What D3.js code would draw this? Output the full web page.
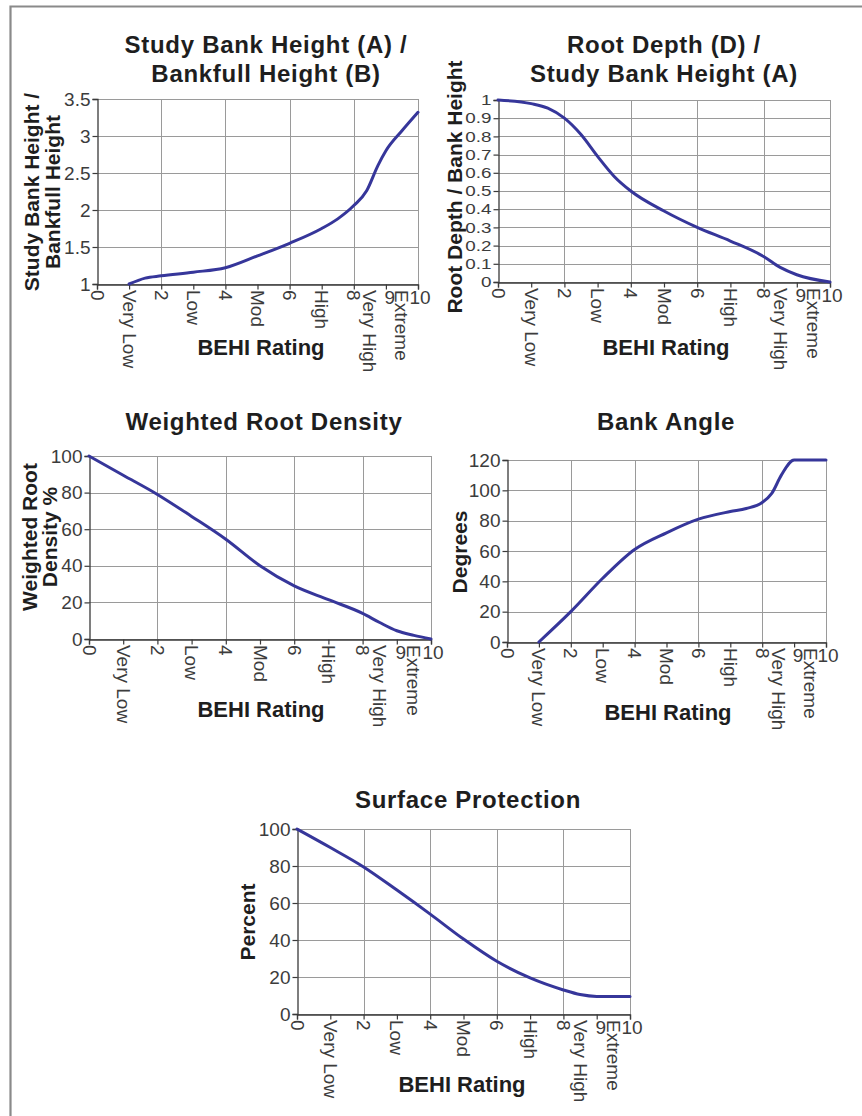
<!DOCTYPE html>
<html>
<head>
<meta charset="utf-8">
<script src="https://cdn.jsdelivr.net/npm/d3@7"></script>
<style>
  html, body { margin: 0; padding: 0; background: #fff; }
  svg { display: block; font-family: "Liberation Sans", Arial, sans-serif; }
</style>
</head>
<body>
<svg id="page" width="862" height="1116"></svg>
<script>
// BEHI rating axis shared by every panel
const xTickValues = [0, 1, 2, 3, 4, 5, 6, 7, 8, 9, 10];
const xGridValues = [2, 4, 6, 8, 10];
const xNumberRotated = [0, 2, 4, 6, 8];
const xNumberFlat = [9, 10];
const ratingNames = ["Very Low", "Low", "Mod", "High", "Very High", "Extreme"];
const ratingPos = [1, 3, 5, 7, 8.5, 9.5];

// Study bank height / bankfull height
const bankHeightX = [1, 1.5, 2, 3, 4, 5, 6, 7, 7.5, 8, 8.4, 8.75, 9, 9.5, 10];
const bankHeightY = [1, 1.08, 1.11, 1.16, 1.22, 1.38, 1.55, 1.75, 1.88, 2.06, 2.26, 2.6, 2.8, 3.07, 3.32];
const bankHeightTicks = [1, 1.5, 2, 2.5, 3, 3.5];
const bankHeightLabels = ["1", "1.5", "2", "2.5", "3", "3.5"];

// Root depth / study bank height
const rootDepthX = [0, 1, 1.5, 2, 2.5, 3, 3.5, 4, 5, 6, 7, 8, 8.5, 9, 10];
const rootDepthY = [1, 0.98, 0.955, 0.9, 0.81, 0.69, 0.58, 0.5, 0.39, 0.3, 0.225, 0.14, 0.08, 0.04, 0];
const rootDepthTicks = [0, 0.1, 0.2, 0.3, 0.4, 0.5, 0.6, 0.7, 0.8, 0.9, 1];
const rootDepthLabels = ["0", "0.1", "0.2", "0.3", "0.4", "0.5", "0.6", "0.7", "0.8", "0.9", "1"];

// Weighted root density (%)
const rootDensityX = [0, 1, 2, 3, 4, 5, 6, 7, 8, 8.5, 9, 9.5, 10];
const rootDensityY = [100, 89.5, 79, 67, 54.5, 40, 29, 21.5, 14, 9, 4.5, 2, 0];
const percentTicks = [0, 20, 40, 60, 80, 100];
const percentLabels = ["0", "20", "40", "60", "80", "100"];

// Bank angle (degrees)
const bankAngleX = [1, 2, 3, 4, 5, 6, 7, 7.5, 8, 8.3, 8.6, 9, 10];
const bankAngleY = [0, 20, 42, 61, 72, 81, 86, 88, 92, 98, 110, 120, 120];
const angleTicks = [0, 20, 40, 60, 80, 100, 120];
const angleLabels = ["0", "20", "40", "60", "80", "100", "120"];

// Surface protection (%)
const surfaceX = [0, 1, 2, 3, 4, 5, 6, 7, 8, 8.5, 9, 10];
const surfaceY = [100, 90, 79.5, 67, 54, 40.5, 28.5, 19.5, 13, 10.5, 9.5, 9.5];

const LINE_COLOR = "#36369a";
const GRID_COLOR = "#9a9a9a";
const AXIS_COLOR = "#3a3a3a";
const TEXT_DARK = "#1e1e1e";
const TICK_TEXT = "#3c3c3c";

const svg = d3.select("#page");

// page frame (top and left rule)
svg.append("path")
  .attr("d", "M10.5,1116 L10.5,6.5 L862,6.5")
  .attr("fill", "none")
  .attr("stroke", "#8a8a8a")
  .attr("stroke-width", 2.2);

const panels = [
  {
    title: ["Study Bank Height (A) /", "Bankfull Height (B)"], titleX: 266, titleY: [53, 82],
    yTitle: ["Study Bank Height /", "Bankfull Height"], yTitleX: [39, 60], yTitleY: 192,
    x0: 97, x1: 418, yTop: 99, yBot: 284, domain: [1, 3.5],
    ticks: bankHeightTicks, labels: bankHeightLabels, tickFont: 19, tickStretch: 1,
    xs: bankHeightX, ys: bankHeightY, behiX: 261, behiY: 355
  },
  {
    title: ["Root Depth (D) /", "Study Bank Height (A)"], titleX: 664, titleY: [53, 82],
    yTitle: ["Root Depth / Bank Height"], yTitleX: [462], yTitleY: 187,
    x0: 498, x1: 830, yTop: 100, yBot: 282, domain: [0, 1],
    ticks: rootDepthTicks, labels: rootDepthLabels, tickFont: 14.5, tickStretch: 1.3,
    xs: rootDepthX, ys: rootDepthY, behiX: 666, behiY: 355
  },
  {
    title: ["Weighted Root Density"], titleX: 264, titleY: [430],
    yTitle: ["Weighted Root", "Density %"], yTitleX: [37, 57], yTitleY: 537,
    x0: 89, x1: 431, yTop: 456, yBot: 639, domain: [0, 100],
    ticks: percentTicks, labels: percentLabels, tickFont: 19, tickStretch: 1,
    xs: rootDensityX, ys: rootDensityY, behiX: 261, behiY: 717
  },
  {
    title: ["Bank Angle"], titleX: 666, titleY: [430],
    yTitle: ["Degrees"], yTitleX: [467], yTitleY: 552,
    x0: 507, x1: 826, yTop: 460, yBot: 642, domain: [0, 120],
    ticks: angleTicks, labels: angleLabels, tickFont: 19, tickStretch: 1,
    xs: bankAngleX, ys: bankAngleY, behiX: 668, behiY: 720
  },
  {
    title: ["Surface Protection"], titleX: 468, titleY: [808],
    yTitle: ["Percent"], yTitleX: [255], yTitleY: 922,
    x0: 297, x1: 630, yTop: 829, yBot: 1014, domain: [0, 100],
    ticks: percentTicks, labels: percentLabels, tickFont: 19, tickStretch: 1,
    xs: surfaceX, ys: surfaceY, behiX: 462, behiY: 1092
  }
];

function drawPanel(p) {
  const g = svg.append("g");
  const x = d3.scaleLinear().domain([0, 10]).range([p.x0, p.x1]);
  const y = d3.scaleLinear().domain(p.domain).range([p.yBot, p.yTop]);

  // horizontal grid
  g.selectAll(".hgrid").data(p.ticks).join("line")
    .attr("x1", p.x0).attr("x2", p.x1)
    .attr("y1", d => Math.round(y(d)) + 0.5).attr("y2", d => Math.round(y(d)) + 0.5)
    .attr("stroke", GRID_COLOR).attr("stroke-width", 1);

  // vertical grid
  g.selectAll(".vgrid").data(xGridValues).join("line")
    .attr("x1", d => Math.round(x(d)) + 0.5).attr("x2", d => Math.round(x(d)) + 0.5)
    .attr("y1", p.yTop).attr("y2", p.yBot)
    .attr("stroke", GRID_COLOR).attr("stroke-width", 1);

  // y axis with labels
  const yAxis = d3.axisLeft(y).tickValues(p.ticks)
    .tickFormat((d, i) => p.labels[i]).tickSize(5).tickPadding(2);
  const ya = g.append("g").attr("transform", `translate(${Math.round(p.x0) + 0.5},0)`).call(yAxis);
  ya.select(".domain").attr("stroke", AXIS_COLOR).attr("stroke-width", 1.3);
  ya.selectAll(".tick line").attr("stroke", AXIS_COLOR).attr("stroke-width", 1.2);
  ya.selectAll(".tick text").attr("fill", TICK_TEXT)
    .attr("x", -7 / p.tickStretch)
    .attr("transform", `scale(${p.tickStretch},1)`)
    .style("font-size", p.tickFont + "px")
    .style("font-family", "'Liberation Sans', Arial, sans-serif");

  // x axis (tick marks only, labels placed below)
  const xAxis = d3.axisBottom(x).tickValues(xTickValues).tickSize(5).tickFormat("");
  const xa = g.append("g").attr("transform", `translate(0,${Math.round(p.yBot) + 0.5})`).call(xAxis);
  xa.select(".domain").attr("stroke", AXIS_COLOR).attr("stroke-width", 1.3);
  xa.selectAll(".tick line").attr("stroke", AXIS_COLOR).attr("stroke-width", 1.2);

  const labelTop = p.yBot + 6;
  // rotated numeric labels
  g.selectAll(".xnum").data(xNumberRotated).join("text")
    .attr("transform", d => `translate(${x(d)},${labelTop}) rotate(90)`)
    .attr("dominant-baseline", "central")
    .attr("text-anchor", "start")
    .attr("fill", TICK_TEXT).style("font-size", "19px")
    .text(d => d);
  // upright numeric labels
  g.selectAll(".xnumflat").data(xNumberFlat).join("text")
    .attr("x", d => x(d) + (d === 9 ? 4 : 2))
    .attr("y", labelTop + 14)
    .attr("text-anchor", "middle")
    .attr("fill", TICK_TEXT).style("font-size", "19px")
    .text(d => d);
  // rotated rating names
  g.selectAll(".rating").data(ratingNames).join("text")
    .attr("transform", (d, i) => `translate(${x(ratingPos[i])},${labelTop}) rotate(90)`)
    .attr("dominant-baseline", "central")
    .attr("text-anchor", "start")
    .attr("fill", TICK_TEXT).style("font-size", "19px")
    .text(d => d);

  // series line
  const pts = p.xs.map((v, i) => [v, p.ys[i]]);
  const line = d3.line().x(d => x(d[0])).y(d => y(d[1])).curve(d3.curveMonotoneX);
  g.append("path").datum(pts)
    .attr("d", line)
    .attr("fill", "none")
    .attr("stroke", LINE_COLOR)
    .attr("stroke-width", 3)
    .attr("stroke-linejoin", "round")
    .attr("stroke-linecap", "round");

  // chart title
  p.title.forEach((t, i) => {
    g.append("text")
      .attr("x", p.titleX).attr("y", p.titleY[i])
      .attr("text-anchor", "middle")
      .attr("fill", TEXT_DARK)
      .style("font-size", "24px").style("font-weight", "bold")
      .style("letter-spacing", "0.7px")
      .text(t);
  });

  // y axis title
  p.yTitle.forEach((t, i) => {
    g.append("text")
      .attr("transform", `translate(${p.yTitleX[i]},${p.yTitleY}) rotate(-90)`)
      .attr("text-anchor", "middle")
      .attr("fill", TEXT_DARK)
      .style("font-size", "21px").style("font-weight", "bold")
      .text(t);
  });

  // x axis title
  g.append("text")
    .attr("x", p.behiX).attr("y", p.behiY)
    .attr("text-anchor", "middle")
    .attr("fill", TEXT_DARK)
    .style("font-size", "22px").style("font-weight", "bold")
    .text("BEHI Rating");
}

panels.forEach(drawPanel);
</script>
</body>
</html>
